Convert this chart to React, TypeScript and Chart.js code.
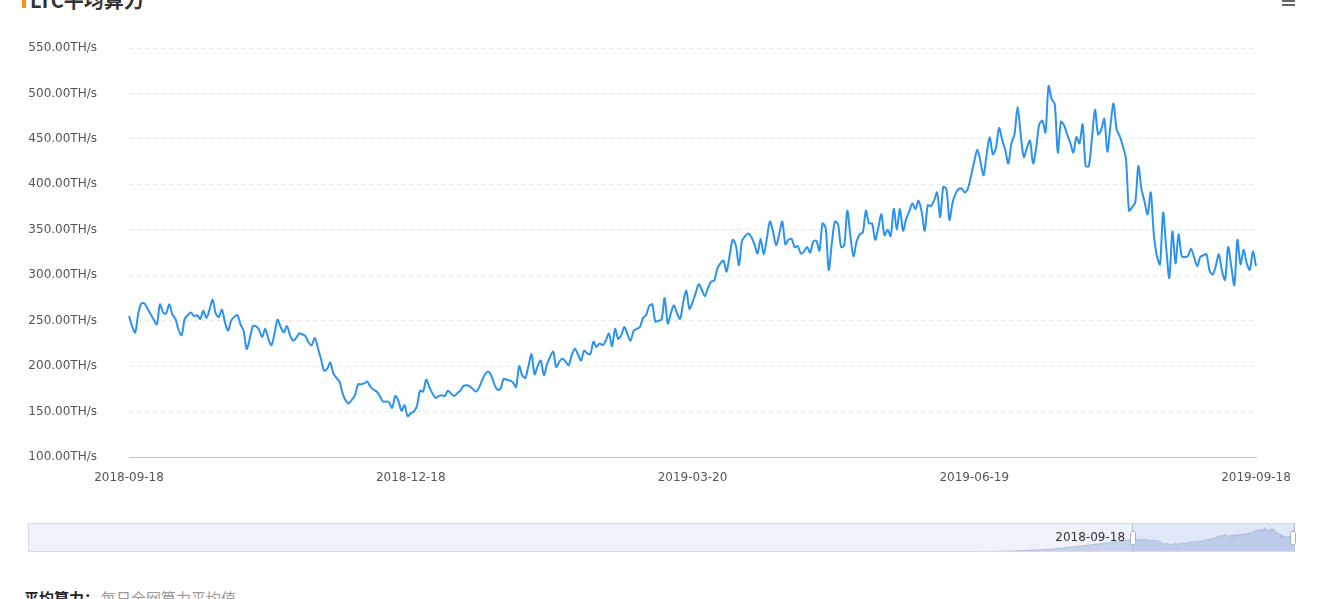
import React, { useEffect, useRef } from 'react';
import { Chart, registerables } from 'chart.js';

Chart.register(...registerables);

// Daily average LTC network hashrate (TH/s), 2018-09-18 .. 2019-09-18
const hashrate: number[] = [
  255, 244, 237, 258, 269, 269, 263, 257, 251, 246,
  268, 259, 258, 268, 257, 252, 240, 234, 252, 256,
  259, 255, 256, 252, 261, 253, 262, 273, 258, 254,
  262, 248, 239, 250, 254, 256, 246, 239, 219, 230,
  244, 244, 240, 232, 241, 230, 223, 236, 251, 243,
  237, 244, 234, 228, 231, 236, 235, 233, 226, 223,
  231, 220, 208, 195, 197, 204, 192, 187, 183, 170,
  162, 159, 163, 168, 180, 180, 181, 183, 177, 174,
  172, 167, 161, 161, 160, 154, 167, 162, 151, 157,
  145, 148, 150, 156, 173, 172, 185, 177, 170, 165,
  167, 168, 167, 173, 170, 167, 170, 173, 178, 179,
  178, 175, 172, 176, 184, 191, 194, 190, 180, 174,
  175, 186, 185, 184, 182, 177, 200, 190, 187, 200,
  213, 191, 200, 206, 190, 202, 210, 216, 199, 205,
  208, 205, 201, 212, 219, 213, 206, 217, 214, 213,
  227, 221, 225, 223, 228, 236, 222, 241, 230, 234,
  243, 235, 228, 239, 241, 243, 253, 256, 266, 268,
  249, 250, 251, 275, 247, 258, 267, 258, 252, 270,
  283, 263, 270, 280, 290, 284, 277, 286, 293, 294,
  307, 313, 316, 304, 322, 339, 333, 311, 338, 343,
  346, 342, 334, 324, 340, 323, 340, 359, 348, 333,
  345, 359, 334, 339, 340, 331, 332, 324, 326, 331,
  325, 337, 338, 327, 357, 352, 306, 335, 359, 356,
  331, 333, 371, 343, 321, 337, 345, 347, 371, 357,
  357, 339, 352, 367, 344, 350, 343, 373, 350, 373,
  349, 362, 370, 379, 373, 382, 370, 349, 377, 376,
  382, 391, 364, 397, 395, 361, 380, 390, 395, 395,
  391, 396, 410, 425, 438, 425, 410, 433, 452, 433,
  440, 462, 449, 438, 423, 445, 455, 485, 455, 430,
  440, 448, 423, 440, 466, 470, 457, 508, 494, 488,
  435, 469, 465, 455, 446, 435, 452, 445, 466, 420,
  420, 450, 482, 455, 460, 472, 436, 465, 489, 460,
  453, 442, 428, 371, 375, 380, 420, 395, 381, 367,
  391, 345, 321, 312, 369, 330, 297, 348, 313, 345,
  321, 320, 321, 329, 320, 310, 320, 322, 323, 305,
  301, 310, 323, 305, 295, 331, 310, 289, 339, 312,
  328, 313, 306, 326, 310,
];

const startDate = '2018-09-18';
const missingDate = '2019-02-05';
const tickDates = ['2018-09-18', '2018-12-18', '2019-03-20', '2019-06-19', '2019-09-18'];

const yMin = 100;
const yMax = 550;
const yStep = 50;
const yUnit = 'TH/s';

// Slider overview: history before the selected window, sampled every 91 days (TH/s)
const sliderStartDate = '2011-12-03';
const historyStepDays = 91;
const historyValues: number[] = [
  0, 0, 0, 0, 0, 1, 1, 1, 1, 1,
  1, 1, 1, 1, 1, 1, 2, 2, 2, 2,
  2, 3, 3, 4, 8, 20, 60, 150,
];
const sliderYMax = 600;

const titleText = 'LTC平均算力';
const footLabel = '平均算力：';
const footDesc = '每日全网算力平均值';

const FONT = '"DejaVu Sans", sans-serif';
const LINE_COLOR = '#2b93ee';

function buildDates(): string[] {
  const out: string[] = [];
  const d = new Date(startDate + 'T00:00:00Z');
  while (out.length < hashrate.length) {
    const s = d.toISOString().slice(0, 10);
    if (s !== missingDate) out.push(s);
    d.setUTCDate(d.getUTCDate() + 1);
  }
  return out;
}

function daysBetween(a: string, b: string): number {
  return Math.round((Date.parse(b + 'T00:00:00Z') - Date.parse(a + 'T00:00:00Z')) / 86400000);
}

export default function App() {
  const mainRef = useRef<HTMLCanvasElement | null>(null);
  const sliderRef = useRef<HTMLCanvasElement | null>(null);

  useEffect(() => {
    const dates = buildDates();
    const tickIdx = tickDates.map((d) => dates.indexOf(d)).filter((i) => i >= 0);

    const main = new Chart(mainRef.current as HTMLCanvasElement, {
      type: 'line',
      data: {
        labels: dates,
        datasets: [
          {
            data: hashrate,
            borderColor: LINE_COLOR,
            borderWidth: 2,
            pointRadius: 0,
            tension: 0.3,
            fill: false,
          },
        ],
      },
      options: {
        responsive: false,
        animation: false,
        layout: { padding: { left: 0, right: 61, top: 48, bottom: 13 } },
        plugins: { legend: { display: false }, tooltip: { enabled: false } },
        scales: {
          x: {
            type: 'category',
            offset: false,
            grid: { display: false },
            border: { display: true, color: '#c4c4c4', width: 1 },
            ticks: {
              autoSkip: false,
              maxRotation: 0,
              padding: 6,
              color: '#555',
              font: { family: FONT, size: 12 },
            },
            afterBuildTicks: (axis: any) => {
              axis.ticks = tickIdx.map((v) => ({ value: v }));
            },
            afterFit: (axis: any) => {
              axis.height = 30;
            },
          } as any,
          y: {
            min: yMin,
            max: yMax,
            grid: { color: '#e6e6e6', drawTicks: false, lineWidth: 1 },
            border: { display: false, dash: [4, 4] },
            ticks: {
              stepSize: yStep,
              padding: 32,
              color: '#555',
              font: { family: FONT, size: 12 },
              callback: (v: any) => Number(v).toFixed(2) + yUnit,
            },
            afterFit: (axis: any) => {
              axis.width = 129;
            },
          } as any,
        },
      },
    });

    const historyLen = historyValues.length;
    const sliderPoints = [
      ...historyValues.map((v, k) => ({ x: -(historyLen - k) * historyStepDays, y: v })),
      ...hashrate.map((v, i) => ({ x: i, y: v })),
    ];
    const sliderMin = -daysBetween(sliderStartDate, startDate);
    const lastIdx = hashrate.length - 1;

    const sliderDecor = {
      id: 'sliderDecor',
      beforeDatasetsDraw(chart: any) {
        const { ctx, chartArea } = chart;
        ctx.save();
        ctx.fillStyle = '#eef2fb';
        ctx.fillRect(chartArea.left, chartArea.top, chartArea.right - chartArea.left, chartArea.bottom - chartArea.top);
        ctx.restore();
      },
      afterDatasetsDraw(chart: any) {
        const { ctx, chartArea, scales } = chart;
        const x0 = scales.x.getPixelForValue(0);
        const x1 = scales.x.getPixelForValue(lastIdx);
        const top = chartArea.top;
        const bottom = chartArea.bottom;
        const h = bottom - top;
        ctx.save();
        ctx.fillStyle = 'rgba(150,175,235,0.15)';
        ctx.fillRect(x0, top, x1 - x0, h);
        ctx.strokeStyle = '#d3dbee';
        ctx.lineWidth = 1;
        ctx.strokeRect(chartArea.left + 0.5, top + 0.5, chartArea.right - chartArea.left - 1, h - 1);
        ctx.strokeStyle = '#b3bfd6';
        [x0, x1].forEach((x) => {
          ctx.beginPath();
          ctx.moveTo(Math.round(x) + 0.5, top);
          ctx.lineTo(Math.round(x) + 0.5, bottom);
          ctx.stroke();
        });
        [x0, x1 - 2].forEach((x) => {
          const w = 5;
          const hh = 14;
          const cy = top + h / 2;
          const rx = Math.round(x) - 2;
          ctx.beginPath();
          ctx.roundRect(rx + 0.5, cy - hh / 2 + 0.5, w, hh, 2.5);
          ctx.fillStyle = '#ffffff';
          ctx.fill();
          ctx.strokeStyle = '#a6b2c8';
          ctx.stroke();
        });
        ctx.fillStyle = '#333';
        ctx.font = '12px ' + FONT;
        ctx.textAlign = 'right';
        ctx.textBaseline = 'middle';
        ctx.fillText(startDate, x0 - 7, top + h / 2);
        ctx.restore();
      },
    };

    const slider = new Chart(sliderRef.current as HTMLCanvasElement, {
      type: 'line',
      data: {
        datasets: [
          {
            data: sliderPoints,
            borderColor: 'rgba(150,165,200,0.9)',
            borderWidth: 0.6,
            backgroundColor: 'rgba(176,190,224,0.65)',
            fill: 'origin',
            pointRadius: 0,
            tension: 0.2,
          },
        ],
      },
      options: {
        responsive: false,
        animation: false,
        layout: { padding: { left: 8, right: 8, top: 8, bottom: 8 } },
        plugins: { legend: { display: false }, tooltip: { enabled: false } },
        scales: {
          x: { type: 'linear', display: false, min: sliderMin, max: lastIdx },
          y: { display: false, min: 0, max: sliderYMax },
        },
      },
      plugins: [sliderDecor],
    });

    return () => {
      main.destroy();
      slider.destroy();
    };
  }, []);

  return (
    <div
      style={{
        position: 'absolute',
        left: 0,
        top: 0,
        width: 1317,
        height: 599,
        overflow: 'hidden',
        background: '#ffffff',
      }}
    >
      <div style={{ position: 'absolute', left: 22, top: -8, width: 4, height: 16, background: '#f7931a' }} />
      <div
        style={{
          position: 'absolute',
          left: 30,
          top: -12,
          fontFamily: '"Noto Sans CJK SC", sans-serif',
          fontWeight: 700,
          fontSize: 20,
          lineHeight: '24px',
          color: '#333',
          whiteSpace: 'nowrap',
        }}
      >
        {titleText}
      </div>
      <div style={{ position: 'absolute', left: 1282, top: 0, width: 13, height: 2, background: '#666' }} />
      <div style={{ position: 'absolute', left: 1282, top: 4, width: 13, height: 2, background: '#666' }} />
      <canvas ref={mainRef} width={1317} height={500} style={{ position: 'absolute', left: 0, top: 0 }} />
      <canvas ref={sliderRef} width={1282} height={45} style={{ position: 'absolute', left: 20, top: 515 }} />
      <div
        style={{
          position: 'absolute',
          left: 24,
          top: 588,
          fontFamily: '"Noto Sans CJK SC", sans-serif',
          fontSize: 15,
          lineHeight: '20px',
          whiteSpace: 'nowrap',
        }}
      >
        <span style={{ fontWeight: 700, color: '#222' }}>{footLabel}</span>
        <span style={{ color: '#999', marginLeft: 2 }}>{footDesc}</span>
      </div>
    </div>
  );
}
